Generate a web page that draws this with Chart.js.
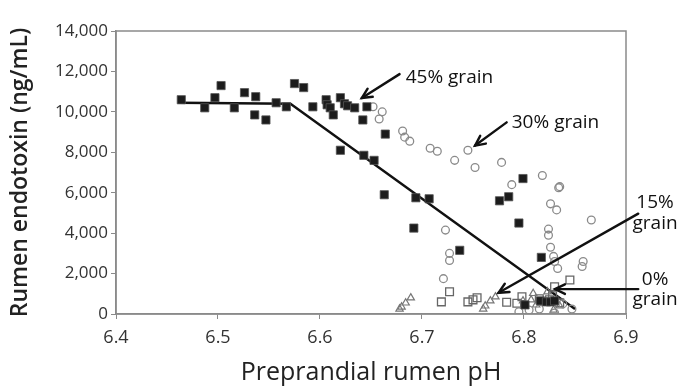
<!DOCTYPE html>
<html>
<head>
<meta charset="utf-8">
<script src="https://cdn.jsdelivr.net/npm/chart.js@4"></script>
<style>
  html, body { margin:0; padding:0; background:#fff; }
  #wrap { width:696px; height:392px; }
</style>
</head>
<body>
<div id="wrap"><canvas id="c"></canvas></div>
<script>
// données
const ph45 = [6.464,6.503,6.497,6.487,6.516,6.526,6.537,6.536,6.547,6.557,6.567,6.575,6.584,6.593,6.606,6.607,6.610,6.613,6.620,6.624,6.627,6.634,6.646,6.642,6.664,6.620,6.643,6.653,6.663,6.694,6.707,6.692,6.799,6.785,6.776,6.795,6.737,6.817,6.801,6.816,6.822,6.826,6.830];
const endo45 = [10600,11300,10700,10200,10200,10950,10750,9850,9600,10450,10250,11400,11200,10250,10600,10350,10200,9850,10700,10400,10300,10200,10250,9600,8900,8100,7850,7600,5900,5750,5700,4250,6700,5800,5600,4500,3150,2800,450,650,600,600,650];

const ph30 = [6.652,6.661,6.658,6.681,6.683,6.688,6.708,6.715,6.745,6.732,6.752,6.778,6.788,6.818,6.834,6.835,6.826,6.832,6.866,6.824,6.824,6.826,6.829,6.830,6.833,6.858,6.857,6.723,6.727,6.727,6.721,6.795,6.847,6.830,6.815,6.805,6.838];
const endo30 = [10250,10000,9650,9050,8750,8550,8200,8050,8100,7600,7250,7500,6400,6850,6250,6300,5450,5150,4650,4200,3900,3300,2850,2600,2250,2600,2350,4150,3000,2650,1750,110,250,50,250,200,500];

const ph15 = [6.680,6.684,6.689,6.678,6.762,6.767,6.772,6.760,6.809,6.807,6.799,6.829,6.823,6.835,6.812];
const endo15 = [350,550,800,250,400,650,850,250,1020,700,650,200,1100,400,450];

const ph0 = [6.719,6.727,6.745,6.750,6.754,6.783,6.793,6.798,6.845,6.830,6.825,6.835,6.815,6.828];
const endo0 = [600,1100,600,700,800,580,530,850,1680,1350,700,550,750,900];

// droite de régression (segmentée)
const regPh = [6.461, 6.571, 6.85];
const regEndo = [10450, 10400, 246];

// étiquettes : texte, position du texte, pointe et queue de flèche
const labels = [
  { lines:['45% grain'], x:6.684, y:[11680], align:'left', head:[6.641,10683], tail:[6.678,11867] },
  { lines:['30% grain'], x:6.788, y:[9480], align:'left', head:[6.752,8332], tail:[6.783,9480] },
  { lines:['15%','grain'], x:6.9285, y:[5500,4480], align:'center', head:[6.775,1050], tail:[6.912,4964] },
  { lines:['0%','grain'], x:6.9285, y:[1720,690], align:'center', head:[6.8304,1232], tail:[6.912,1232] }
];

const xTicks = [6.4,6.5,6.6,6.7,6.8,6.9];
const FONT = '"Open Sans", Lato, sans-serif';
const GRAY = '#8a8a8a';

const pts = (xs, ys) => xs.map((x,i)=>({x, y:ys[i]}));

// cadre complet autour de la zone de tracé
const framePlugin = {
  id:'frame',
  beforeDatasetsDraw(chart){
    const {ctx, chartArea:a} = chart;
    ctx.save();
    ctx.strokeStyle = GRAY; ctx.lineWidth = 1.5;
    ctx.strokeRect(a.left, a.top, a.right-a.left, a.bottom-a.top);
    ctx.restore();
  }
};

// flèches + textes
const arrowPlugin = {
  id:'arrows',
  afterDatasetsDraw(chart){
    const {ctx, scales:{x, y}} = chart;
    ctx.save();
    labels.forEach(l => {
      const hx = x.getPixelForValue(l.head[0]), hy = y.getPixelForValue(l.head[1]);
      const tx = x.getPixelForValue(l.tail[0]), ty = y.getPixelForValue(l.tail[1]);
      ctx.strokeStyle = '#111'; ctx.lineWidth = 2.4; ctx.lineCap = 'round';
      ctx.beginPath(); ctx.moveTo(tx,ty); ctx.lineTo(hx,hy); ctx.stroke();
      const ang = Math.atan2(hy-ty, hx-tx), h = 11;
      ctx.beginPath();
      ctx.moveTo(hx - h*Math.cos(ang-0.45), hy - h*Math.sin(ang-0.45));
      ctx.lineTo(hx, hy);
      ctx.lineTo(hx - h*Math.cos(ang+0.45), hy - h*Math.sin(ang+0.45));
      ctx.stroke();
      ctx.fillStyle = '#111';
      ctx.font = '500 19px ' + FONT;
      ctx.textAlign = l.align; ctx.textBaseline = 'middle';
      l.lines.forEach((t,i) => ctx.fillText(t, x.getPixelForValue(l.x), y.getPixelForValue(l.y[i])));
    });
    ctx.restore();
  }
};

new Chart(document.getElementById('c'), {
  type:'scatter',
  data:{
    datasets:[
      { label:'45% grain', data:pts(ph45, endo45), pointStyle:'rect', pointRadius:5.8,
        backgroundColor:'#1c1c1c', borderColor:'#555', borderWidth:0.8 },
      { label:'30% grain', data:pts(ph30, endo30), pointStyle:'circle', pointRadius:3.9,
        backgroundColor:'rgba(255,255,255,0)', borderColor:GRAY, borderWidth:1.3 },
      { label:'15% grain', data:pts(ph15, endo15), pointStyle:'triangle', pointRadius:4.2,
        backgroundColor:'rgba(255,255,255,0)', borderColor:'#777', borderWidth:1.2 },
      { label:'0% grain', data:pts(ph0, endo0), pointStyle:'rect', pointRadius:5.5,
        backgroundColor:'rgba(255,255,255,0)', borderColor:'#666', borderWidth:1.3 },
      { type:'line', label:'reg', data:pts(regPh, regEndo), borderColor:'#111', borderWidth:2.4,
        pointRadius:0, fill:false, tension:0 }
    ]
  },
  options:{
    responsive:true, maintainAspectRatio:false, animation:false,
    layout:{ padding:{ top:31, right:70, bottom:0, left:0 } },
    plugins:{ legend:{display:false}, tooltip:{enabled:false} },
    scales:{
      x:{
        type:'linear', min:6.4, max:6.9,
        afterBuildTicks: s => { s.ticks = xTicks.map(v=>({value:v})); },
        afterFit: s => { s.height = 78; },
        ticks:{ color:'#333', font:{family:FONT, size:18}, padding:8,
          callback: v => v.toFixed(1) },
        grid:{ drawOnChartArea:false, drawTicks:true, tickLength:5, color:GRAY },
        border:{ display:true, color:GRAY, width:1.5 },
        title:{ display:true, text:'Preprandial rumen pH', color:'#222',
          font:{family:FONT, size:25}, padding:{top:0, bottom:4} }
      },
      y:{
        min:0, max:14000,
        afterFit: s => { s.width = 116; },
        ticks:{ stepSize:2000, color:'#333', font:{family:FONT, size:17}, padding:3,
          callback: v => v.toLocaleString('en-US') },
        grid:{ drawOnChartArea:false, drawTicks:true, tickLength:5, color:GRAY },
        border:{ display:true, color:GRAY, width:1.5 },
        title:{ display:true, text:'Rumen endotoxin (ng/mL)', color:'#222',
          font:{family:FONT, size:23, weight:600}, padding:{top:7, bottom:0} }
      }
    }
  },
  plugins:[framePlugin, arrowPlugin]
});
</script>
</body>
</html>
